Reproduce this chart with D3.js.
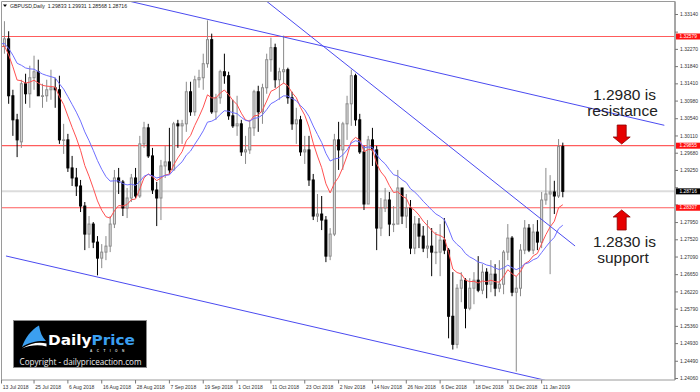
<!DOCTYPE html>
<html><head><meta charset="utf-8">
<script src="https://cdn.jsdelivr.net/npm/d3@7"></script>
<style>body{margin:0;background:#fff}svg{display:block}</style>
</head><body>
<svg id="c" width="700" height="392"></svg>
<script>
// ---------- data ----------
const dateLabels = ["13 Jul 2018","25 Jul 2018","6 Aug 2018","16 Aug 2018","28 Aug 2018","7 Sep 2018","19 Sep 2018","1 Oct 2018","11 Oct 2018","23 Oct 2018","2 Nov 2018","14 Nov 2018","26 Nov 2018","6 Dec 2018","18 Dec 2018","31 Dec 2018","11 Jan 2019"];
const opens  = [1.3205,1.3233,1.3252,1.3110,1.3050,1.2995,1.3140,1.3115,1.3155,1.3170,1.3110,1.3110,1.3125,1.3130,1.3125,1.3000,1.3000,1.2930,1.2905,1.2885,1.2835,1.2765,1.2790,1.2745,1.2705,1.2720,1.2735,1.2790,1.2905,1.2895,1.2830,1.2855,1.2905,1.2860,1.2990,1.3030,1.2960,1.2875,1.2855,1.2935,1.2945,1.2925,1.3040,1.3035,1.3040,1.3120,1.3070,1.3150,1.3155,1.3190,1.3250,1.3070,1.3105,1.3170,1.3160,1.3060,1.3035,1.3040,1.2970,1.2975,1.3030,1.3120,1.3070,1.3130,1.3200,1.3230,1.3150,1.3170,1.3175,1.3105,1.3040,1.3050,1.2970,1.2975,1.2900,1.2810,1.2815,1.2800,1.2710,1.2765,1.3000,1.2975,1.3040,1.3090,1.3160,1.3050,1.2970,1.2840,1.3000,1.2975,1.2780,1.2830,1.2850,1.2790,1.2790,1.2880,1.2810,1.2830,1.2730,1.2790,1.2760,1.2730,1.2735,1.2720,1.2720,1.2750,1.2725,1.2560,1.2490,1.2630,1.2650,1.2580,1.2630,1.2650,1.2625,1.2670,1.2640,1.2665,1.2630,1.2640,1.2720,1.2755,1.2620,1.2630,1.2725,1.2780,1.2725,1.2770,1.2745,1.2850,1.2865,1.2870,1.2860,1.29833];
const highs  = [1.3245,1.3296,1.3271,1.3125,1.3065,1.3150,1.3165,1.3185,1.3210,1.3200,1.3140,1.3150,1.3175,1.3155,1.3160,1.3040,1.3015,1.2960,1.2930,1.2900,1.2845,1.2810,1.2795,1.2760,1.2740,1.2760,1.2810,1.2925,1.2930,1.2900,1.2880,1.2915,1.2930,1.3010,1.3045,1.3040,1.2980,1.2895,1.2950,1.2985,1.3030,1.3045,1.3050,1.3050,1.3145,1.3145,1.3160,1.3175,1.3215,1.3298,1.3265,1.3115,1.3175,1.3215,1.3170,1.3100,1.3110,1.3050,1.3010,1.3050,1.3125,1.3135,1.3140,1.3215,1.3255,1.3240,1.3180,1.3260,1.3180,1.3120,1.3080,1.3060,1.3010,1.3010,1.2915,1.2865,1.2860,1.2810,1.2780,1.3015,1.3045,1.3045,1.3110,1.3175,1.3165,1.3065,1.2985,1.3010,1.3030,1.2985,1.2855,1.2880,1.2870,1.2835,1.2925,1.2880,1.2865,1.2850,1.2810,1.2805,1.2785,1.2800,1.2780,1.2770,1.2790,1.2805,1.2730,1.2670,1.2640,1.2670,1.2655,1.2655,1.2670,1.2710,1.2690,1.2680,1.2700,1.2690,1.2700,1.2725,1.2790,1.2760,1.2660,1.2740,1.2800,1.2790,1.2790,1.2800,1.2870,1.2930,1.2912,1.2898,1.3002,1.29931];
const lows   = [1.3101,1.3215,1.3090,1.3010,1.2957,1.2980,1.3090,1.3080,1.3125,1.3120,1.3080,1.3095,1.3100,1.3080,1.2990,1.2965,1.2920,1.2885,1.2860,1.2820,1.2725,1.2730,1.2730,1.2662,1.2680,1.2700,1.2720,1.2780,1.2865,1.2810,1.2805,1.2845,1.2855,1.2855,1.2980,1.2955,1.2865,1.2785,1.2800,1.2905,1.2915,1.2925,1.2980,1.2990,1.3020,1.3060,1.3060,1.3130,1.3125,1.3180,1.3065,1.3050,1.3090,1.3140,1.3050,1.3030,1.3010,1.2960,1.2940,1.2965,1.3010,1.3020,1.3040,1.3115,1.3170,1.3130,1.3100,1.3140,1.3090,1.3025,1.2990,1.2960,1.2940,1.2885,1.2800,1.2795,1.2775,1.2695,1.2700,1.2760,1.2925,1.2925,1.3000,1.3035,1.3035,1.2965,1.2825,1.2840,1.2935,1.2725,1.2760,1.2820,1.2760,1.2770,1.2790,1.2790,1.2780,1.2715,1.2715,1.2730,1.2720,1.2705,1.2660,1.2690,1.2660,1.2715,1.2505,1.2477,1.2480,1.2595,1.2530,1.2575,1.2590,1.2620,1.2615,1.2605,1.2620,1.2610,1.2620,1.2615,1.2700,1.2610,1.2422,1.2610,1.2715,1.2720,1.2715,1.2725,1.2730,1.2838,1.2665,1.2815,1.2855,1.28568];
const closes = [1.3233,1.3252,1.3110,1.3050,1.3000,1.3140,1.3115,1.3155,1.3170,1.3110,1.3110,1.3125,1.3130,1.3125,1.3000,1.3000,1.2930,1.2905,1.2885,1.2835,1.2765,1.2790,1.2745,1.2705,1.2720,1.2735,1.2790,1.2905,1.2895,1.2830,1.2855,1.2905,1.2860,1.2990,1.3030,1.2960,1.2875,1.2855,1.2935,1.2945,1.2925,1.3040,1.3035,1.3040,1.3120,1.3070,1.3150,1.3155,1.3190,1.3250,1.3070,1.3105,1.3170,1.3160,1.3060,1.3035,1.3040,1.2970,1.2975,1.3030,1.3120,1.3070,1.3130,1.3200,1.3230,1.3150,1.3170,1.3175,1.3105,1.3040,1.3050,1.2970,1.2975,1.2900,1.2810,1.2815,1.2800,1.2710,1.2765,1.3000,1.2975,1.3040,1.3090,1.3160,1.3050,1.2970,1.2840,1.3000,1.2975,1.2780,1.2830,1.2850,1.2790,1.2790,1.2880,1.2810,1.2830,1.2730,1.2790,1.2760,1.2730,1.2735,1.2720,1.2720,1.2750,1.2725,1.2560,1.2490,1.2630,1.2650,1.2580,1.2630,1.2650,1.2625,1.2670,1.2640,1.2665,1.2630,1.2640,1.2720,1.2755,1.2620,1.2630,1.2725,1.2780,1.2725,1.2770,1.2745,1.2850,1.2865,1.2870,1.2860,1.29833,1.28716];
const priceTicks = [1.33140,1.32700,1.32270,1.31840,1.31410,1.30980,1.30540,1.30110,1.29680,1.29250,1.28820,1.28390,1.27950,1.27520,1.27090,1.26650,1.26220,1.25790,1.25360,1.24930,1.24490,1.24060];
const levelPrices = [1.32579, 1.29855, 1.28307];
const lastPrice = 1.28716;
const headerText = "GBPUSD,Daily  1.29833 1.29931 1.28568 1.28716";
// trendlines: [barA, priceA, barB, priceB]
const trendlines = [[29,1.33497,157,1.30364],[62.6,1.33489,135.9,1.27353],[1.37,1.27104,128.8,1.24005]];
const maPeriods = [10, 20];
const maSeeds = [1.3230, 1.3240];
const notes = [["1.2980 is","resistance"],["1.2830 is","support"]];

// ---------- scales ----------
const svg = d3.select("#c");
const x = d3.scaleLinear().domain([0, 133]).range([0.2, 562.8]);
const y = d3.scaleLinear().domain([1.24060, 1.33140]).range([378, 14]);
const L = 1.5, R = 675, T = 1.5, B = 380;

svg.append("rect").attr("width",700).attr("height",392).attr("fill","#fff");
svg.append("defs").append("clipPath").attr("id","clip")
  .append("rect").attr("x",L+0.5).attr("y",T+0.5).attr("width",R-L-1).attr("height",B-T-1);

const plot = svg.append("g").attr("clip-path","url(#clip)");

// current price line
plot.append("line").attr("x1",L).attr("x2",R).attr("y1",y(lastPrice)).attr("y2",y(lastPrice))
  .attr("stroke","#dcdcdc").attr("stroke-width",2);
// horizontal levels
plot.selectAll("line.lvl").data(levelPrices).join("line").attr("class","lvl")
  .attr("x1",L).attr("x2",R).attr("y1",d=>y(d)).attr("y2",d=>y(d))
  .attr("stroke","#ff5c5c").attr("stroke-width",1.2);

// candles
const bars = closes.map((c,i)=>({i,o:opens[i],h:highs[i],l:lows[i],c}));
const cg = plot.append("g");
cg.selectAll("line.w").data(bars).join("line").attr("class","w")
  .attr("x1",d=>x(d.i)).attr("x2",d=>x(d.i)).attr("y1",d=>y(d.h)).attr("y2",d=>y(d.l))
  .attr("stroke",d=>d.c>=d.o?"#8a8a8a":"#000").attr("stroke-width",1);
cg.selectAll("rect.b").data(bars).join("rect").attr("class","b")
  .attr("x",d=>x(d.i)-1).attr("width",2)
  .attr("y",d=>y(Math.max(d.o,d.c))).attr("height",d=>Math.max(0.6,Math.abs(y(d.o)-y(d.c))))
  .attr("fill",d=>d.c>=d.o?"#e4e4e4":"#000").attr("stroke",d=>d.c>=d.o?"#8a8a8a":"#000").attr("stroke-width",1);

// moving averages (computed from the closes, like the chart's indicator)
function ema(vals,n,seed){const k=2/(n+1);let e=seed;return vals.map(v=>(e=e+k*(v-e)));}
const maColors = ["#ff5050","#6e6eff"];
const line = d3.line().x((d,i)=>x(i)).y(d=>y(d));
maPeriods.forEach((n,k)=>{
  plot.append("path").attr("d",line(ema(closes,n,maSeeds[k]))).attr("fill","none")
    .attr("stroke",maColors[k]).attr("stroke-width",1);
});

// trendlines
plot.selectAll("line.tl").data(trendlines).join("line").attr("class","tl")
  .attr("x1",d=>x(d[0])).attr("y1",d=>y(d[1])).attr("x2",d=>x(d[2])).attr("y2",d=>y(d[3]))
  .attr("stroke","#4b4bf0").attr("stroke-width",1);

// frame
svg.append("path").attr("d",`M${L},${T}H${R}V${B}H${L}Z`).attr("fill","none").attr("stroke","#9a9a9a").attr("stroke-width",1);
svg.append("line").attr("x1",R).attr("x2",R).attr("y1",T).attr("y2",B).attr("stroke","#9a9a9a").attr("stroke-width",1.5);

// right axis (labels that sit under a price box are covered in the original, so they are skipped)
const boxPrices = levelPrices.concat([lastPrice]);
const ax = svg.append("g").attr("transform",`translate(${R},0)`)
  .call(d3.axisRight(y).tickValues(priceTicks).tickFormat(d3.format(".5f")).tickSize(3).tickPadding(2));
ax.select(".domain").remove();
ax.selectAll("line").attr("stroke","#777");
ax.selectAll("text").attr("font-family","Liberation Sans, Arial, sans-serif").attr("font-size",5).attr("fill","#333")
  .style("display",d=>boxPrices.some(p=>Math.abs(y(p)-y(d))<4.9)?"none":null);

// price boxes
const boxes = levelPrices.map(p=>({p,fill:"#ff1010"})).concat([{p:lastPrice,fill:"#000"}]);
const bx = svg.selectAll("g.box").data(boxes).join("g").attr("class","box")
  .attr("transform",d=>`translate(${R+1},${y(d.p)})`);
bx.append("rect").attr("x",0).attr("y",-3).attr("width",24).attr("height",6).attr("fill",d=>d.fill);
bx.append("text").attr("x",3.5).attr("y",1.7).text(d=>d3.format(".5f")(d.p))
  .attr("font-family","Liberation Sans, Arial, sans-serif").attr("font-size",4.8).attr("fill","#fff");

// bottom axis (label every 8 bars)
const dateIdx = dateLabels.map((d,k)=>k*8);
const xg = svg.append("g");
xg.selectAll("line").data(dateIdx).join("line")
  .attr("x1",d=>Math.max(L,x(d))).attr("x2",d=>Math.max(L,x(d))).attr("y1",B).attr("y2",B+3.5)
  .attr("stroke","#777");
xg.selectAll("text").data(dateLabels).join("text")
  .attr("x",(d,k)=>Math.max(L,x(dateIdx[k]))+1.2).attr("y",B+8.5).text(d=>d)
  .attr("font-family","Liberation Sans, Arial, sans-serif").attr("font-size",5).attr("fill","#333");

// header
svg.append("path").attr("d","M3,4.5 L7,4.5 L5,7 Z").attr("fill","#000");
svg.append("text").attr("x",10).attr("y",7.6).text(headerText).attr("xml:space","preserve")
  .attr("font-family","Liberation Sans, Arial, sans-serif").attr("font-size",5.2).attr("fill","#222");

// annotations
const ann = svg.append("g").attr("font-family","Liberation Sans, Arial, sans-serif").attr("font-size",15.5)
  .attr("fill","#222").attr("text-anchor","middle");
ann.append("text").attr("x",624.5).attr("y",99.5).text(notes[0][0]);
ann.append("text").attr("x",622.5).attr("y",116).text(notes[0][1]);
ann.append("text").attr("x",624.5).attr("y",246.8).text(notes[1][0]);
ann.append("text").attr("x",623).attr("y",263).text(notes[1][1]);

function arrow(cx, top, bottom, down){
  const sw=4.5, hw=8.5, hl=7;
  let p;
  if(down){ const hy=bottom-hl;
    p=`M${cx-sw},${top}H${cx+sw}V${hy}H${cx+hw}L${cx},${bottom}L${cx-hw},${hy}H${cx-sw}Z`;}
  else { const hy=top+hl;
    p=`M${cx-sw},${bottom}H${cx+sw}V${hy}H${cx+hw}L${cx},${top}L${cx-hw},${hy}H${cx-sw}Z`;}
  svg.append("path").attr("d",p).attr("fill","#e60000").attr("stroke","#8a0000").attr("stroke-width",0.8);
}
arrow(621.7,125,144,true);
arrow(621.7,210,230,false);

// logo
const lg = svg.append("g");
lg.append("rect").attr("x",13.5).attr("y",320.5).attr("width",133).attr("height",47).attr("fill","#000").attr("stroke","#8a8a8a");
lg.append("path").attr("d","M22,347 C25,338 31,330 39,325.5 C40,332 42,337 46,341 C38,340.5 29,342 22,347 Z").attr("fill","#3b9ff0");
lg.append("path").attr("d","M22,348.5 C30,343 39,341.5 46.5,343.5 L46.5,346.5 C39,344.5 30,345 22,348.5 Z").attr("fill","#fff");
lg.append("text").attr("x",48).attr("y",344.5).attr("font-family","DejaVu Sans, sans-serif").attr("font-weight","bold")
  .attr("font-size",14).attr("textLength",87).attr("lengthAdjust","spacingAndGlyphs")
  .selectAll("tspan").data([["Daily","#fff"],["Price","#3b9ff0"]]).join("tspan").text(d=>d[0]).attr("fill",d=>d[1]);
lg.append("text").attr("x",90).attr("y",351.6).text("ACTION").attr("font-family","Liberation Sans, Arial, sans-serif")
  .attr("font-size",3.2).attr("letter-spacing",4.4).attr("fill","#ddd").attr("font-weight","bold");
lg.append("text").attr("x",19.5).attr("y",364.5).text("Copyright - dailypriceaction.com")
  .attr("font-family","Open Sans, Liberation Sans, sans-serif").attr("font-size",8.3).attr("fill","#eee")
  .attr("textLength",122).attr("lengthAdjust","spacingAndGlyphs");
</script>
</body></html>
